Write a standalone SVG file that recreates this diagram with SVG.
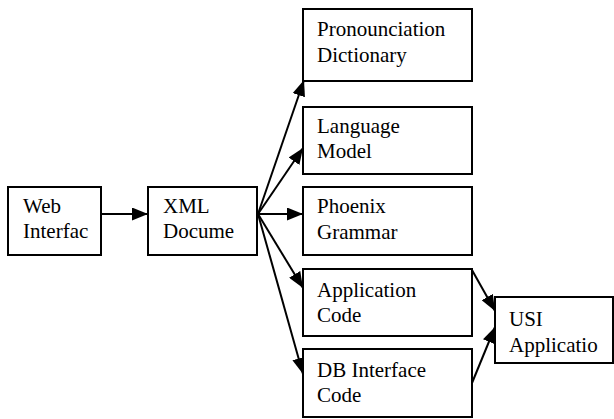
<svg xmlns="http://www.w3.org/2000/svg" width="614" height="419" viewBox="0 0 614 419">
<defs>
<marker id="ah" markerWidth="16" markerHeight="13" refX="16" refY="6.5" orient="auto" markerUnits="userSpaceOnUse">
<path d="M0,0 L16,6.5 L0,13 z" fill="#000"/>
</marker>
<style>
.box{fill:#fff;stroke:#000;stroke-width:2}
.t{font-family:'Liberation Serif','DejaVu Serif',serif;font-size:21px;fill:#000}
.c{stroke:#000;stroke-width:2;fill:none;marker-end:url(#ah)}
</style>
</defs>
<rect width="614" height="419" fill="#fff"/>
<g id="connectors">
<line class="c" x1="101" y1="214" x2="148" y2="214"/>
<line class="c" x1="258" y1="214" x2="304" y2="80"/>
<line class="c" x1="258" y1="214" x2="303" y2="148"/>
<line class="c" x1="258" y1="214" x2="303" y2="214"/>
<line class="c" x1="258" y1="214" x2="303" y2="288"/>
<line class="c" x1="258" y1="214" x2="303" y2="374"/>
<line class="c" x1="472" y1="270" x2="495" y2="311"/>
<line class="c" x1="472" y1="383" x2="495" y2="327"/>
</g>
<g id="web">
<rect class="box" x="8" y="187" width="93" height="68"/>
<text class="t" x="23" y="213">Web</text>
<text class="t" x="23" y="238">Interfac</text>
</g>
<g id="xml">
<rect class="box" x="148" y="187" width="109" height="68"/>
<text class="t" x="163" y="213">XML</text>
<text class="t" x="163" y="238">Docume</text>
</g>
<g id="pron">
<rect class="box" x="303" y="9" width="169" height="72"/>
<text class="t" x="317" y="36">Pronounciation</text>
<text class="t" x="317" y="62">Dictionary</text>
</g>
<g id="lang">
<rect class="box" x="303" y="107" width="169" height="67"/>
<text class="t" x="317" y="133">Language</text>
<text class="t" x="317" y="158">Model</text>
</g>
<g id="phoenix">
<rect class="box" x="303" y="187" width="169" height="68"/>
<text class="t" x="317" y="213">Phoenix</text>
<text class="t" x="317" y="239">Grammar</text>
</g>
<g id="app">
<rect class="box" x="303" y="269" width="169" height="67"/>
<text class="t" x="317" y="297">Application</text>
<text class="t" x="317" y="322">Code</text>
</g>
<g id="db">
<rect class="box" x="303" y="349" width="169" height="68"/>
<text class="t" x="317" y="377">DB Interface</text>
<text class="t" x="317" y="402">Code</text>
</g>
<g id="usi">
<rect class="box" x="495" y="297" width="118" height="66"/>
<text class="t" x="509" y="326">USI</text>
<text class="t" x="509" y="352">Applicatio</text>
</g>
</svg>
